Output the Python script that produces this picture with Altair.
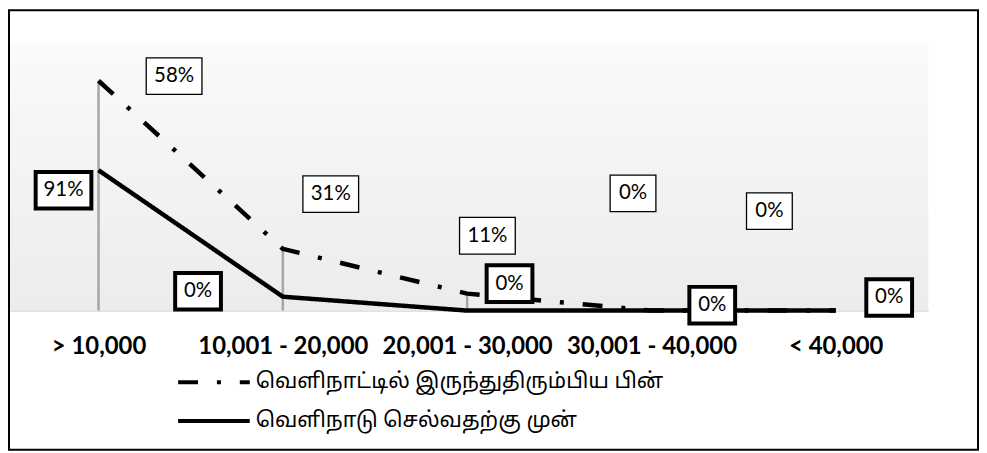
import json
import altair as alt
import pandas as pd

categories = ["> 10,000", "10,001 - 20,000", "20,001 - 30,000", "30,001 - 40,000", "< 40,000"]
series_after = "வெளிநாட்டில் இருந்துதிரும்பிய பின்"
series_before = "வெளிநாடு செல்வதற்கு முன்"

before_values = [91, 9, 0, 0, 0]
after_values = [58, 31, 11, 0, 0]

before_labels = ["91%", "0%", "0%", "0%", "0%"]
after_labels = ["58%", "31%", "11%", "0%", "0%"]

# where each data label sits (category index, percent units)
before_label_x = [-0.19, 0.54, 2.23, 3.33, 4.29]
before_label_y = [78, 12.5, 17.5, 3.5, 8.5]
after_label_x = [0.41, 1.26, 2.11, 2.90, 3.64]
after_label_y = [152, 75.5, 48.5, 76, 64.5]

rows = []
for i, c in enumerate(categories):
    rows.append({"i": i, "cat": c, "series": series_before, "order": 0, "value": before_values[i]})
    rows.append({"i": i, "cat": c, "series": series_after, "order": 1, "value": after_values[i]})
df = pd.DataFrame(rows)

lab_before = pd.DataFrame({"lx": before_label_x, "ly": before_label_y, "t": before_labels})
lab_after = pd.DataFrame({"lx": after_label_x, "ly": after_label_y, "t": after_labels})

FONT = "Lato"
TAMIL = "Noto Sans Tamil, Noto Serif Tamil, Lohit Tamil, Latha, Noto Sans"

W, H = 925, 269

label_expr = json.dumps(categories) + "[datum.value]"

xscale = alt.Scale(domain=[-0.4912, 4.502], nice=False, zero=False)
yscale = alt.Scale(domain=[0, 173.5], nice=False, zero=True)

xenc = alt.X("i:Q", scale=xscale, title=None,
             axis=alt.Axis(values=[0, 1, 2, 3, 4], labelExpr=label_expr, ticks=False, grid=False,
                           domainColor="#d9d9d9", domainWidth=1.5, labelFont=FONT, labelFontSize=24,
                           labelFontWeight="bold", labelColor="black", labelPadding=36,
                           labelBaseline="middle", labelFlush=False, labelOverlap=False))

base = alt.Chart(df).transform_stack(
    stack="value", groupby=["i"], as_=["y0", "y1"],
    sort=[alt.SortField("order", order="ascending")]
)

plot_bg = alt.Chart(pd.DataFrame({"a": [0]})).mark_rect(
    fill=alt.LinearGradient(gradient="linear", x1=0, x2=0, y1=0, y2=1,
                            stops=[alt.GradientStop(color="#fafafa", offset=0),
                                   alt.GradientStop(color="#ececec", offset=1)])
).encode(x=alt.value(0), x2=alt.value(W), y=alt.value(0), y2=alt.value(H))

drops = base.transform_filter("datum.order == 1").mark_rule(
    color="#a6a6a6", strokeWidth=2.5
).encode(x=xenc, y=alt.Y("y1:Q", scale=yscale, axis=None), y2=alt.datum(0))

lines = base.mark_line(color="black", strokeWidth=4.5, strokeCap="butt", strokeJoin="round").encode(
    x=xenc,
    y=alt.Y("y1:Q", scale=yscale, axis=None),
    strokeDash=alt.StrokeDash(
        "series:N",
        scale=alt.Scale(domain=[series_after, series_before], range=[[20, 19, 4, 19], [1, 0]]),
        legend=alt.Legend(orient="none", legendX=195, legendY=329, direction="vertical", title=None,
                          symbolType="M-3.6,0L3.6,0", symbolSize=400, symbolStrokeWidth=4,
                          symbolStrokeColor="black", labelFont=TAMIL, labelFontSize=21.5,
                          labelColor="black", labelOffset=30, labelLimit=700, rowPadding=16),
    ),
    order=alt.Order("i:Q"),
)

wide_path = "M-1.4,-0.92L1.4,-0.92L1.4,0.92L-1.4,0.92Z"
narrow_path = "M-1.15,-0.92L1.15,-0.92L1.15,0.92L-1.15,0.92Z"
shape_enc = alt.Shape("kind:N", scale=alt.Scale(domain=["wide", "narrow"], range=[wide_path, narrow_path]),
                      legend=None)


def label_layers(src, sw):
    b = alt.Chart(src).transform_calculate(kind="length(datum.t) > 2 ? 'wide' : 'narrow'")
    boxes = b.mark_point(filled=True, fill="white", stroke="black", strokeWidth=sw, size=1600,
                         opacity=1).encode(
        x=alt.X("lx:Q", scale=xscale), y=alt.Y("ly:Q", scale=yscale), shape=shape_enc)
    texts = b.mark_text(font=FONT, fontSize=20.5, color="black", align="center", baseline="middle").encode(
        x=alt.X("lx:Q", scale=xscale), y=alt.Y("ly:Q", scale=yscale), text="t:N")
    return boxes + texts


frame = alt.Chart(pd.DataFrame({"a": [0]})).mark_rect(
    fillOpacity=0, stroke="black", strokeWidth=2
).encode(x=alt.value(1), x2=alt.value(975), y=alt.value(-33), y2=alt.value(409))

chart = alt.layer(
    plot_bg, drops, lines, label_layers(lab_after, 1.3), label_layers(lab_before, 4), frame
).properties(
    width=W, height=H,
    autosize=alt.AutoSizeParams(type="none"),
    padding={"left": 0, "top": 34, "right": 51, "bottom": 141},
    background="white",
).configure_view(
    stroke=None,
)

chart.save("out.html", embed_options={"renderer": "svg", "actions": False})
